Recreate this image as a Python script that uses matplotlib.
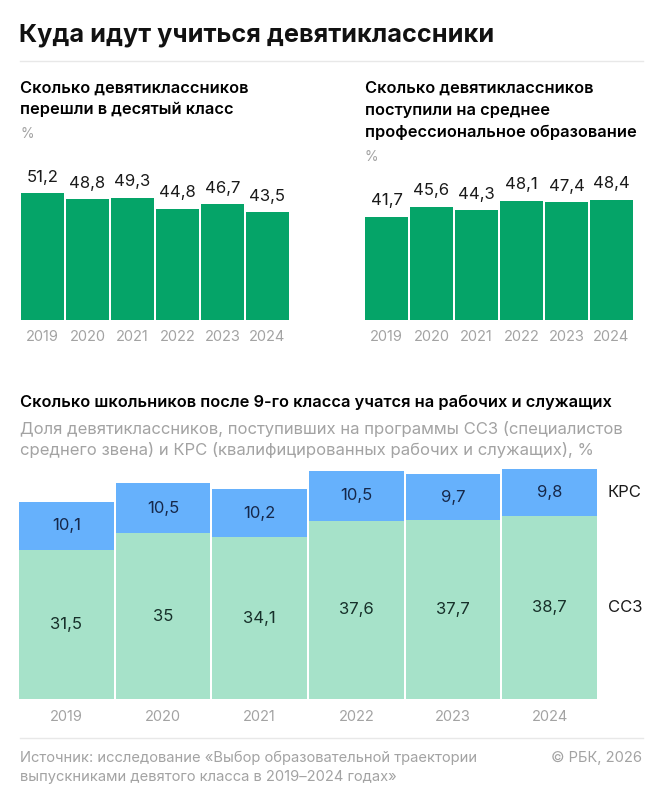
import matplotlib
matplotlib.use("Agg")
import matplotlib.pyplot as plt
from matplotlib.lines import Line2D

plt.rcParams['font.family'] = ['Inter', 'DejaVu Sans']

years = ['2019', '2020', '2021', '2022', '2023', '2024']
tenth_grade = [51.2, 48.8, 49.3, 44.8, 46.7, 43.5]
spo = [41.7, 45.6, 44.3, 48.1, 47.4, 48.4]
ssz = [31.5, 35, 34.1, 37.6, 37.7, 38.7]
krs = [10.1, 10.5, 10.2, 10.5, 9.7, 9.8]

GREEN = '#05a468'
BLUE = '#66b1fc'
MINT = '#a6e2c9'
GRAY = '#a3a3a3'
W, H = 662, 800


def fmt(v):
    s = ('%.1f' % v).rstrip('0').rstrip('.')
    return s.replace('.', ',')


def px_axes(fig, x0, y_top, x1, y_bot):
    return fig.add_axes([x0 / W, 1 - y_bot / H, (x1 - x0) / W, (y_bot - y_top) / H])


def clean(ax):
    for s in ax.spines.values():
        s.set_visible(False)
    ax.set_yticks([])
    ax.tick_params(axis='x', length=0)


def ftext(x, y, s, **kw):
    fig.text(x / W, 1 - y / H, s, **kw)


fig = plt.figure(figsize=(W / 100, H / 100), dpi=100)

# header
ftext(19, 35, 'Куда идут учиться девятиклассники', fontsize=18.2,
      fontweight='bold', va='center', color='#111111')
fig.add_artist(Line2D([20 / W, 643 / W], [1 - 61 / H] * 2, color='#e8e8e8', lw=1))

# top-left panel
ftext(20, 88, 'Сколько девятиклассников', fontsize=11.8, fontweight='semibold', va='center')
ftext(20, 109, 'перешли в десятый класс', fontsize=11.8, fontweight='semibold', va='center')
ftext(20, 134, '%', fontsize=10, color=GRAY, va='center')

# top-right panel
ftext(365, 88, 'Сколько девятиклассников', fontsize=11.8, fontweight='semibold', va='center')
ftext(365, 110, 'поступили на среднее', fontsize=11.8, fontweight='semibold', va='center')
ftext(365, 132, 'профессиональное образование', fontsize=11.8, fontweight='semibold', va='center')
ftext(365, 157, '%', fontsize=10, color=GRAY, va='center')

scale_top = 2.48  # px per unit
for x0, x1, vals in [(20, 290, tenth_grade), (364, 634, spo)]:
    ax = px_axes(fig, x0, 180, x1, 320)
    pos = range(len(years))
    ax.bar(pos, vals, width=0.955, color=GREEN)
    ax.set_xlim(-0.5, len(years) - 0.5)
    ax.set_ylim(0, 140 / scale_top)
    for p, v in zip(pos, vals):
        ax.annotate(fmt(v), (p, v), xytext=(0, 11.5), textcoords='offset points',
                    ha='center', va='center', fontsize=12, color='#1a1a1a')
    ax.set_xticks(list(pos))
    ax.set_xticklabels(years, fontsize=10.5, color=GRAY)
    ax.tick_params(axis='x', pad=7)
    clean(ax)

# bottom panel
ftext(20, 402, 'Сколько школьников после 9-го класса учатся на рабочих и служащих',
      fontsize=11.8, fontweight='semibold', va='center')
ftext(20, 429, 'Доля девятиклассников, поступивших на программы ССЗ (специалистов',
      fontsize=12, color=GRAY, va='center')
ftext(20, 450, 'среднего звена) и КРС (квалифицированных рабочих и служащих), %',
      fontsize=12, color=GRAY, va='center')

ax = px_axes(fig, 18, 460, 598, 699)
pos = list(range(len(years)))
ax.bar(pos, ssz, width=0.98, color=MINT)
ax.bar(pos, krs, bottom=ssz, width=0.98, color=BLUE)
ax.set_xlim(-0.5, len(years) - 0.5)
ax.set_ylim(0, 239 / 4.74)
for p, a, b in zip(pos, ssz, krs):
    ax.text(p, a / 2, fmt(a), ha='center', va='center', fontsize=12, color='#17302a')
    ax.text(p, a + b / 2, fmt(b), ha='center', va='center', fontsize=12, color='#16284a')
ax.text(len(years) - 0.5 + 0.1, ssz[-1] + krs[-1] / 2, 'КРС', ha='left', va='center',
        fontsize=12, color='#1a1a1a')
ax.text(len(years) - 0.5 + 0.1, ssz[-1] / 2, 'ССЗ', ha='left', va='center',
        fontsize=12, color='#1a1a1a')
ax.set_xticks(pos)
ax.set_xticklabels(years, fontsize=10.5, color=GRAY)
ax.tick_params(axis='x', pad=8)
clean(ax)

# footer
fig.add_artist(Line2D([20 / W, 643 / W], [1 - 738 / H] * 2, color='#e8e8e8', lw=1))
ftext(20, 758, 'Источник: исследование «Выбор образовательной траектории',
      fontsize=10.6, color=GRAY, va='center')
ftext(20, 777, 'выпускниками девятого класса в 2019–2024 годах»',
      fontsize=10.6, color=GRAY, va='center')
ftext(642, 758, '© РБК, 2026', fontsize=10.6, color=GRAY, va='center', ha='right')

fig.savefig('out.png', dpi=100, facecolor='white')
